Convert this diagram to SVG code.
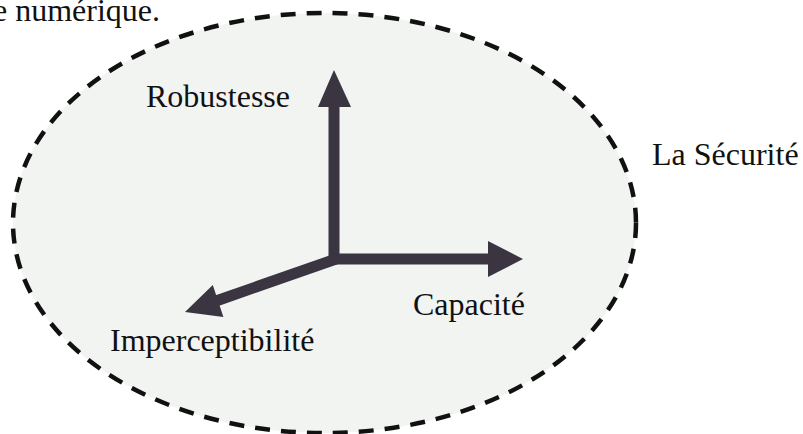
<svg xmlns="http://www.w3.org/2000/svg" width="803" height="434" viewBox="0 0 803 434">
<style>
text{font-family:"Liberation Serif","Times New Roman",serif;font-size:32px;fill:#111}
.ax{stroke:#3a3540;stroke-width:11;fill:none}
.hd{fill:#3a3540}
</style>
<rect width="803" height="434" fill="#ffffff"/>
<text x="-7" y="21">e numérique.</text>
<g id="securite">
<ellipse cx="324.5" cy="223" rx="311.5" ry="210" fill="#f2f4f2" stroke="#111" stroke-width="4.5" stroke-dasharray="15 11"/>
<text x="652" y="165">La Sécurité</text>
</g>
<g id="robustesse"><text x="146" y="107">Robustesse</text></g>
<g id="capacite"><text x="413" y="315">Capacité</text></g>
<g id="imperceptibilite"><text x="110" y="351">Imperceptibilité</text></g>
<g id="connectors">
<path class="ax" d="M334 264 V104"/>
<polygon class="hd" points="334,70 318,107 351,107"/>
<path class="ax" d="M329 259 H490"/>
<polygon class="hd" points="523,259 488,241 488,277"/>
<path class="ax" d="M336 259 L216 301"/>
<polygon class="hd" points="185,312 212.8,284.9 223.4,317.1"/>
</g>
</svg>
